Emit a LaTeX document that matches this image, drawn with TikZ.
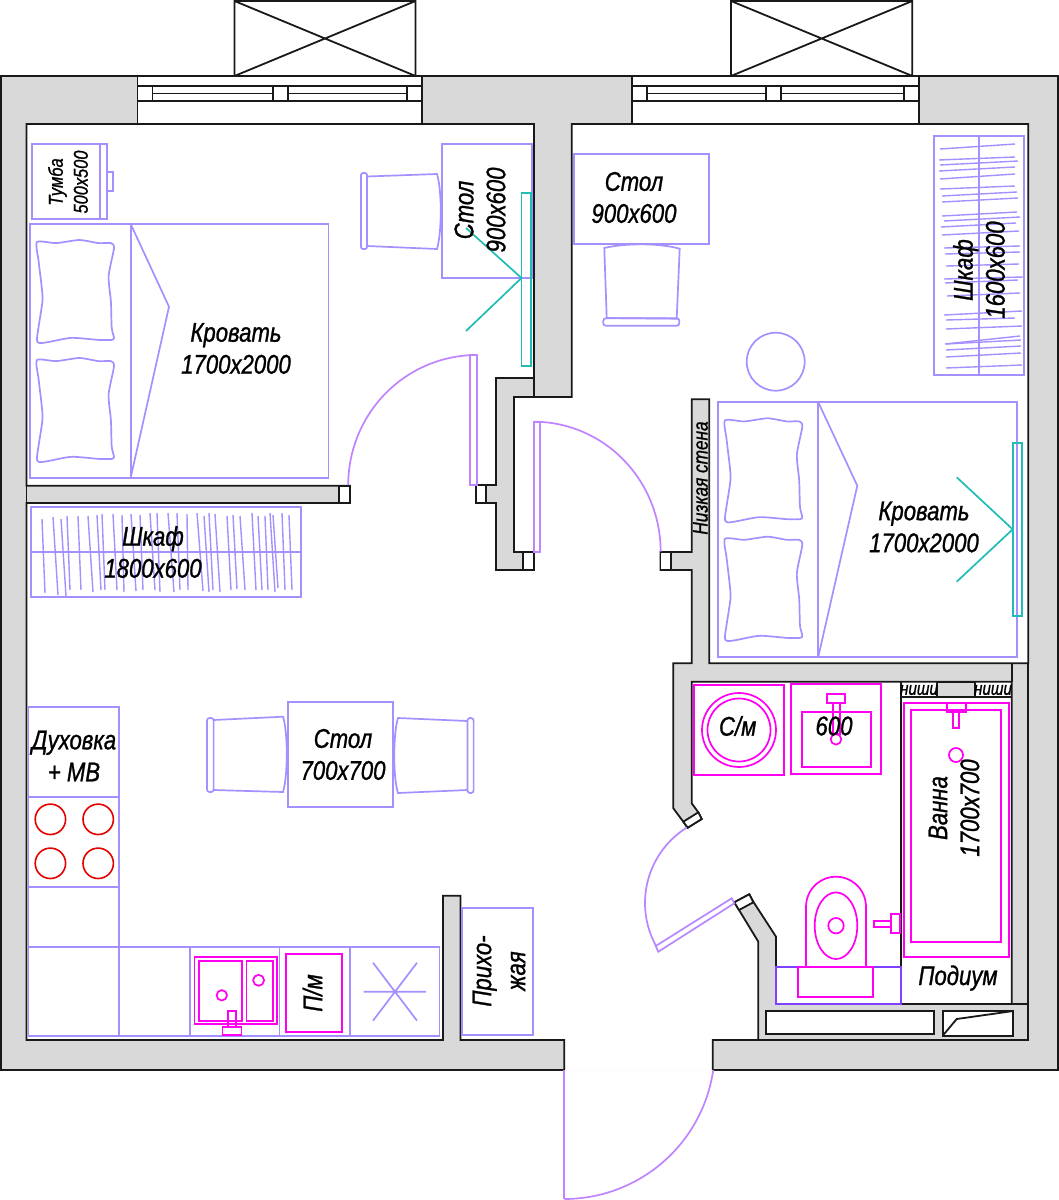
\documentclass[tikz,border=0pt]{standalone}
\usepackage{fontspec}
\setmainfont{Liberation Sans}[FakeStretch=0.82,FakeBold=1]
\definecolor{wallgray}{HTML}{D9D9D9}
\definecolor{furn}{HTML}{A68FFF}
\definecolor{doorc}{HTML}{C084FF}
\definecolor{violetbox}{HTML}{8040FF}
\definecolor{san}{HTML}{FF00F0}
\definecolor{tealc}{HTML}{1FBDB6}
\definecolor{burner}{HTML}{E60000}
\tikzset{
  wall/.style={draw=black!90,line width=1.8pt,line join=miter},
  fu/.style={draw=furn,line width=1.7pt},
  dr/.style={draw=doorc,line width=1.7pt},
  sa/.style={draw=san,line width=1.7pt},
  te/.style={draw=tealc,line width=1.7pt},
  re/.style={draw=burner,line width=1.6pt},
  lab/.style={font=\fontsize{27}{32}\selectfont\itshape,inner sep=0pt,align=center,text=black},
  labs/.style={font=\fontsize{20}{25}\selectfont\itshape,inner sep=0pt,align=center,text=black},
  labn/.style={font=\fontsize{18.5}{22}\selectfont\itshape,inner sep=0pt,text=black},
}
\newcommand\pillow[4]{%
  \begin{scope}[shift={(#1,#2)},xscale=#3,yscale=#4]
    \draw[fu] plot[smooth cycle,tension=0.4] coordinates{(0,0.02)(0.25,0.03)(0.55,0)(0.8,0.03)(0.96,0.03)(1,0.08)(0.93,0.35)(0.96,0.6)(0.97,0.85)(1,0.95)(0.97,0.97)(0.8,0.97)(0.45,0.95)(0.15,0.99)(0.03,1)(0,0.95)(0.07,0.6)(0.06,0.45)(0.02,0.2)};
  \end{scope}}
\newcommand\windowunit[7]{% x1 x2 t1 t2 t3 t4
  \draw[wall,fill=white] (#1,76) rectangle (#2,124);
  \draw[wall] (#1,86) -- (#2,86) (#1,101) -- (#2,101);
  \draw[wall] (#3,86) -- (#3,101) (#4,86) -- (#4,101) (#5,86) -- (#5,101) (#6,86) -- (#6,101);
  \draw[wall] (#3,93.5) -- (#4,93.5) (#5,93.5) -- (#6,93.5);
  }
\begin{document}
\begin{tikzpicture}[x=1pt,y=-1pt]
\useasboundingbox (0,0) rectangle (1059,1200);
% outer wall mass
\filldraw[wall,fill=wallgray] (564.3,1070) -- (1,1070) -- (1,76) -- (1058,76) -- (1058,1070) -- (712.7,1070);
% interior
\filldraw[wall,fill=white] (564.3,1070) -- (564.3,1040) -- (460.4,1040) -- (460.4,895.7) -- (442.9,895.7) -- (442.9,1040) -- (26.5,1040) -- (26.5,503) -- (350,503) -- (350,485.7) -- (26.5,485.7) -- (26.5,124)
 -- (534,124) -- (534,378) -- (496,378) -- (496,485) -- (476,485) -- (476,503) -- (496,503) -- (496,570) -- (534,570) -- (534,552) -- (514,552) -- (514,397) -- (571.7,397) -- (571.7,124)
 -- (1028.3,124) -- (1028.3,663.3) -- (709.3,663.3) -- (709.3,399.3) -- (691.7,399.3) -- (691.7,552) -- (660.5,552) -- (660.5,570) -- (691.7,570) -- (691.7,663.3) -- (673.3,663.3) -- (673.3,808.3) -- (683.3,821.7) -- (687.7,827.7) -- (701.7,819) -- (698.3,812.3) -- (691.7,803.3) -- (691.7,681.7)
 -- (1011.7,681.7) -- (1011.7,1004) -- (776,1004) -- (776,936.7) -- (753.3,901.7) -- (749.3,894.3) -- (734.3,902.3) -- (739,910) -- (758.3,941.7) -- (758.3,1040) -- (712.7,1040) -- (712.7,1070);
% extra wall lines
\draw[wall] (26.5,485.7) -- (26.5,503);
\draw[wall] (534,378) -- (534,397);
\draw[wall] (1011.7,663.3) -- (1011.7,681.7);
\draw[wall] (1028.3,663.3) -- (1028.3,1040) -- (712.7,1040);
\draw[wall] (1011.7,1004) -- (1028.3,1004);
% door jambs
\draw[wall,fill=white] (339,485.7) rectangle (350,503);
\draw[wall,fill=white] (476,485) rectangle (486,503);
\draw[wall,fill=white] (523,552) rectangle (534,570);
\draw[wall,fill=white] (660.5,552) rectangle (670.7,570);
\draw[wall,fill=white] (683.3,821.7) -- (698.3,812.3) -- (701.7,819) -- (687.7,827.7) -- cycle;
\draw[wall,fill=white] (734.3,902.3) -- (749.3,894.3) -- (753.3,902.3) -- (739,910) -- cycle;
% windows and balconies
\windowunit{137.5}{422}{152.5}{273}{288}{407}{}
\windowunit{632.3}{918.7}{647.3}{766}{780.7}{903.7}{}
\draw[wall] (234.5,1) rectangle (415.5,76) (234.5,1) -- (415.5,76) (415.5,1) -- (234.5,76);
\draw[wall] (731,1) rectangle (912.3,76) (731,1) -- (912.3,76) (912.3,1) -- (731,76);
% bath niches and service shaft
\draw[wall] (900.7,681.7) -- (900.7,1004);
\draw[wall] (900.7,696.7) -- (1011.7,696.7);
\filldraw[wall,fill=wallgray] (936.7,681.7) rectangle (975,696.7);
\draw[wall,fill=white] (765.7,1011) rectangle (933.7,1034);
\draw[wall,fill=white] (942.7,1011) rectangle (1013.3,1035.7);
\draw[wall] (942.7,1035.7) -- (956.7,1019) -- (1013.3,1011);
% doors
\draw[dr] (470,355) rectangle (476.7,485.3);
\draw[dr] plot[domain=180:270,samples=40] ({476.7+128.5*cos(\x)},{485+130*sin(\x)});
\draw[dr] (533.7,421.7) rectangle (539.7,551.7);
\draw[dr] plot[domain=270:360,samples=40] ({533.7+127*cos(\x)},{551.7+130*sin(\x)});
\draw[dr] (564.3,1070) -- (564.3,1199);
\draw[dr] plot[domain=8.2:90,samples=40] ({564.3+150.5*cos(\x)},{1048.5+150.5*sin(\x)});
\draw[dr,draw=doorc!70!furn] (655.7,946) -- (731.7,898.3) -- (734.3,903.3) -- (658.3,951.7) -- cycle;
\draw[dr,draw=doorc!70!furn] plot[domain=150.6:237.9,samples=40] ({734+89*cos(\x)},{903+89*sin(\x)});
% bedroom A
\draw[fu] (32,144) rectangle (107,219) (100,144) -- (100,219) (107,172) -- (113,172) -- (113,191) -- (107,191);
\draw[fu] (30,224) rectangle (328.6,477.7) (130.7,224) -- (130.7,477.7);
\draw[fu] (130.7,224) -- (169,306.7) -- (130.7,477.7);
\pillow{37}{240}{77}{103}
\pillow{37}{358}{77}{104}
\draw[fu] (442,143.7) rectangle (532,277.7);
\draw[fu,rounded corners=2pt] (361,173) rectangle (367,249);
\draw[fu] (367,176.5) -- (437,174) .. controls (442,190) and (442,232) .. (437,249) -- (367,246);
% wardrobe A
\draw[fu] (31.3,507.3) rectangle (301,596.7) (31.3,552.3) -- (301,552.3);
\foreach \a/\b/\c/\d in {42/45/519/593,53/58/517/595,61/66/519/596,67/70/516/590,78/81/516/590,88/93/516/592,97/101/515/590,102/105/514/590,113/117/514/590,122/124/515/592,131/136/514/591,140/143/515/590,150/155/513/590,157/160/513/592,168/174/513/592,177/180/513/590,187/188/514/590,197/203/513/591,204/209/516/592,209/213/513/590,215/220/514/592,227/231/516/590,233/237/515/589,240/245/516/590,252/256/513/590,258/262/516/590,265/268/516/590,270/275/513/592,273/278/515/588,282/285/513/590,289/292/515/590}
  {\draw[fu,line width=1.4pt] (\a,\c) -- (\b,\d);}
% bedroom B
\draw[fu] (573.7,154) rectangle (708.7,244.3);
\draw[fu] (604.3,248) .. controls (625,243) and (660,243) .. (679.7,248.7) -- (676.7,318.7) -- (606.7,318) -- cycle;
\draw[fu,rounded corners=2.5pt] (603.3,318.3) rectangle (679.3,325.7);
\draw[fu] (934,136) rectangle (1023.7,375) (978.7,136) -- (978.7,375);
\foreach \a/\c/\b/\d in {940/149/1015/144,939/160/1015/157,940/165/1018/161,939/171/1015/167,940/179/1015/174,940/189/1015/186,942/196/1017/192,942/202/1018/198,942/216/1017/212,944/221/1020/217,941/227/1016/223,942/235/1019/231,944/248/1020/246,945/254/1020/252,946/266/1019/264,944/279/1023/277,945/283/1018/280,947/296/1020/293,944/315/1022/311,946/320/1015/318,946/329/1022/326,946/344/1021/340,945/344/1020/336,946/350/1021/346,946/357/1021/353,946/368/1022/365}
  {\draw[fu,line width=1.4pt] (\a,\c) -- (\b,\d);}
\draw[fu] (775.7,361.7) circle[radius=29];
\draw[fu] (717.7,402.3) rectangle (1017,656.7) (818.3,402.3) -- (818.3,656.7);
\draw[fu] (818.3,402.3) -- (857.3,485.7) -- (818.3,656.7);
\pillow{725}{418.3}{77.3}{104}
\pillow{725}{536.7}{77.3}{104.3}
% teal elements
\draw[te] (521.5,192.7) rectangle (531,366);
\draw[te] (466,228) -- (521.5,278) -- (466,331);
\draw[te] (1012.7,443) rectangle (1022,616.3);
\draw[te] (956.7,477.3) -- (1012.7,529.3) -- (956.7,581.7);
% dining table
\draw[fu] (288.2,702.3) rectangle (393.2,806.7);
\draw[fu,rounded corners=2.5pt] (207,718) rectangle (213.6,792);
\draw[fu] (213.6,720) -- (283,716.7) .. controls (288,732) and (288,776) .. (283,792) -- (213.6,790);
\draw[fu,rounded corners=2.5pt] (467.5,718) rectangle (473.6,793);
\draw[fu] (467.5,721) -- (398,718) .. controls (393,734) and (393,778) .. (398,793) -- (467.5,790);
% kitchen
\draw[fu] (28.6,706.7) rectangle (119,946.7) (28.6,796.7) -- (119,796.7) (28.6,886.7) -- (119,886.7);
\draw[fu] (28.6,946.7) rectangle (439.6,1036);
\foreach \a in {119,190,279.6,350} {\draw[fu] (\a,946.7) -- (\a,1036);}
\foreach \a in {50.4,98.2} \foreach \b in {819.3,863.3} {\draw[re] (\a,\b) circle[radius=15.2];}
\draw[sa] (194.6,956.7) rectangle (276.8,1024.3) (199,961) rectangle (242,1021) (246.4,961) rectangle (273.2,1021);
\draw[sa] (221.8,995.3) circle[radius=5.2] (258.6,980.3) circle[radius=5.5];
\draw[sa] (228.2,1010.7) rectangle (235.7,1026.7) (222.5,1026.7) rectangle (241.4,1035.3);
\draw[sa] (285.7,954.3) rectangle (342,1032.3);
\draw[fu] (363.6,991.7) -- (426,991.7) (373,962.7) -- (417,1020.7) (417,962.7) -- (373,1020.7);
\draw[fu] (461.8,907.7) rectangle (533.2,1034.7);
% bathroom
\draw[sa] (694,685.3) rectangle (784.3,775);
\draw[sa] (739,730) circle[radius=37] (739,730) circle[radius=31.5];
\draw[sa] (790.7,684.3) rectangle (880.7,774) (801.7,712) rectangle (870.7,766.7);
\draw[sa] (826.7,693.7) rectangle (845.3,702.7) (832.7,702.7) rectangle (840,734);
\draw[sa] (836,739.3) circle[radius=5.3];
\draw[sa] (903.7,702.7) rectangle (1008.7,956.7) (911.3,710) rectangle (1001.3,942);
\draw[sa] (947,702.7) rectangle (965.7,711.7) (952.7,711.7) rectangle (959.3,727.7);
\draw[sa] (956,755) circle[radius=7];
\draw[sa] (806,966.7) -- plot[domain=180:360,samples=30] ({836+30*cos(\x)},{906.7+30*sin(\x)}) -- (866,966.7);
\draw[sa] (836,925.7) ellipse[x radius=21.3,y radius=33.3];
\draw[sa] (836,925.7) circle[radius=7.7];
\draw[draw=violetbox,line width=1.7pt] (776,966.7) rectangle (900.7,1004);
\draw[sa] (798.3,966.7) rectangle (873.3,996.7);
\draw[sa] (890.7,914.3) rectangle (900,932.7) (874,920.7) rectangle (890.7,927.3);
% labels
\node[lab] (tA) at (236,348.5) {Кровать\\1700x2000};
\node[lab] (tB) at (924,527) {Кровать\\1700x2000};
\node[lab,rotate=90] (dA) at (480,210) {Стол\\900x600};
\node[lab] (dB) at (634,197.5) {Стол\\900x600};
\node[labs,rotate=90] (tu) at (68,182) {Тумба\\500x500};
\node[lab] (wA) at (153,552) {Шкаф\\1800x600};
\node[lab,rotate=90] (wB) at (979,270) {Шкаф\\1600x600};
\node[lab] (dt) at (343,754.5) {Стол\\700x700};
\node[lab] (ov) at (74,756) {Духовка\\+ МВ};
\node[lab,rotate=90] (pm) at (312.5,993) {П/м};
\node[lab,rotate=90,font=\fontsize{27}{34}\selectfont\itshape] (hw) at (499,971) {Прихо-\\жая};
\node[lab,rotate=90] (ba) at (954,808) {Ванна\\1700x700};
\node[lab] (sm) at (737.7,726) {С/м};
\node[lab] (si) at (834,726) {600};
\node[lab] (po) at (958,978) {Подиум};
\node[labs,rotate=90,font=\fontsize{21}{25}\selectfont\itshape] (lw) at (700.5,478) {Низкая стена};
\node[labn] (n1) at (919,690) {ниши};
\node[labn] (n2) at (993,690) {ниши};
\end{tikzpicture}
\end{document}
